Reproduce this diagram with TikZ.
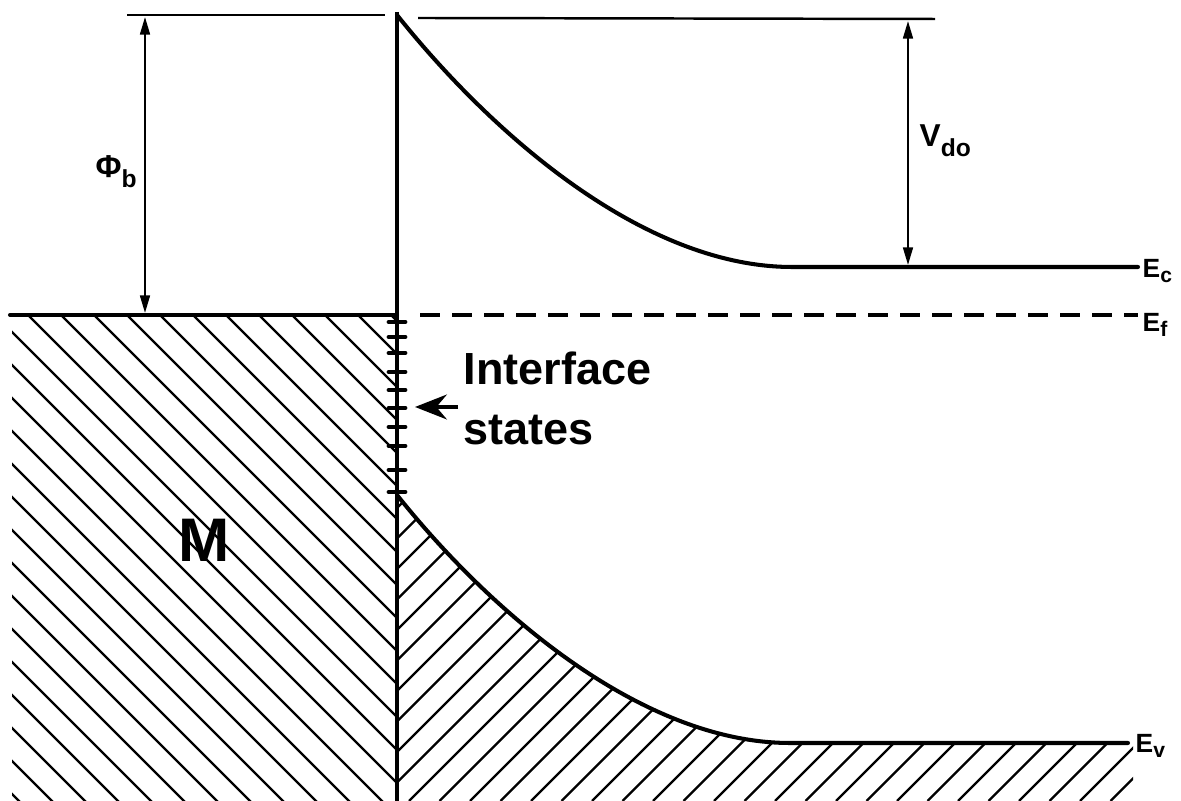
\documentclass[tikz,border=0pt]{standalone}
\usepackage{fontspec}
\setmainfont{Liberation Sans}
\usetikzlibrary{arrows.meta}
\newcommand{\lowsub}[1]{\raisebox{-2.6pt}{\fontsize{7}{8}\selectfont #1}}
\newcommand{\esub}[1]{\raisebox{-1.3pt}{\fontsize{6}{6}\selectfont #1}}

\begin{document}
\begin{tikzpicture}[x=0.01cm, y=-0.01cm, >=Stealth,
      band/.style={line width=1.15pt, line cap=round},
      levelline/.style={line width=0.7pt},
      hatch/.style={line width=0.65pt},
      tickmark/.style={line width=1.4pt, line cap=round},
      dim/.style={line width=0.6pt, {Triangle[length=5pt,width=2.8pt]}-{Triangle[length=5pt,width=2.8pt]}},
      lbl/.style={inner sep=0pt, anchor=base west, font=\bfseries\fontsize{9}{10}\selectfont},
      elbl/.style={inner sep=0pt, anchor=base west, font=\bfseries\fontsize{7.5}{8}\selectfont}]
      \useasboundingbox (0,0) rectangle (1181,801);
      % band edges and levels
      \coordinate (itop) at (397,12);   \coordinate (ibot) at (397,801);
      \coordinate (efl) at (10,315);    \coordinate (ef0) at (397,315);
      \coordinate (efd) at (420,315);   \coordinate (efr) at (1138,315);
      \coordinate (ctop) at (397,15);   \coordinate (cmin) at (792,267);  \coordinate (ecr) at (1138,267);
      \coordinate (vtop) at (397,495);  \coordinate (vmin) at (790,743);  \coordinate (evr) at (1128,743);
      \coordinate (tl1) at (127,15);    \coordinate (tl2) at (385,15);
      \coordinate (tr1) at (418,18);    \coordinate (tr2) at (935,19);
      \coordinate (phit) at (145,17);   \coordinate (phib0) at (145,313);
      \coordinate (vdt) at (908,21);    \coordinate (vdb) at (908,265);
      \coordinate (arrs) at (458,407);  \coordinate (arre) at (415,407);
      % hatching
      \begin{scope}
        \clip (12,317) rectangle (396,801);
        \foreach \s in {-500,-467,...,420} \draw[hatch] (\s,315) -- ++(500,500);
      \end{scope}
      \begin{scope}
        \clip (vtop) .. controls (497,620) and (647,743) .. (vmin) -- (1133,743) -- (1133,801) -- (398,801) -- cycle;
        \foreach \k in {-28,...,15} \draw[hatch] ({714+30.5*\k},801) -- ++(500,-500);
      \end{scope}
      % lines
      \draw[levelline] (tl1) -- (tl2);
      \draw[levelline] (tr1) -- (tr2);
      \draw[line width=1.4pt] (itop) -- (ibot);
      \draw[band] (ctop) .. controls (497,140) and (647,267) .. (cmin) -- (ecr);
      \draw[band] (vtop) .. controls (497,620) and (647,743) .. (vmin) -- (evr);
      \draw[band] (efl) -- (ef0);
      \draw[band, line cap=butt, dash pattern=on 5.6pt off 3.5pt] (efd) -- (efr);
      \foreach \y in {322,337,353,372,390,408,427,446,470,492} \draw[tickmark] (389,\y) -- (405,\y);
      \draw[dim] (phit) -- (phib0);
      \draw[dim] (vdt) -- (vdb);
      % labels
      \node[lbl] (phib) at (95,178) {Φ\lowsub{b}};
      \node[lbl] (vdo) at (919,147) {V\lowsub{do}};
      \node[elbl] (ec) at (1142,278) {E\esub{c}};
      \node[elbl] (ef) at (1142,332) {E\esub{f}};
      \node[elbl] (ev) at (1135,753) {E\esub{v}};
      \node[inner sep=0pt, font=\bfseries\fontsize{17.5}{20}\selectfont] (metal) at (204,540) {M};
      \node[inner sep=0pt, anchor=north west, align=left, font=\bfseries\fontsize{12.8}{17}\selectfont] (istates) at (463,351) {Interface\\states};
      \draw[line width=1.4pt, -{Stealth[length=9pt,width=7pt]}] (arrs) -- (arre);
    \end{tikzpicture}
\end{document}
